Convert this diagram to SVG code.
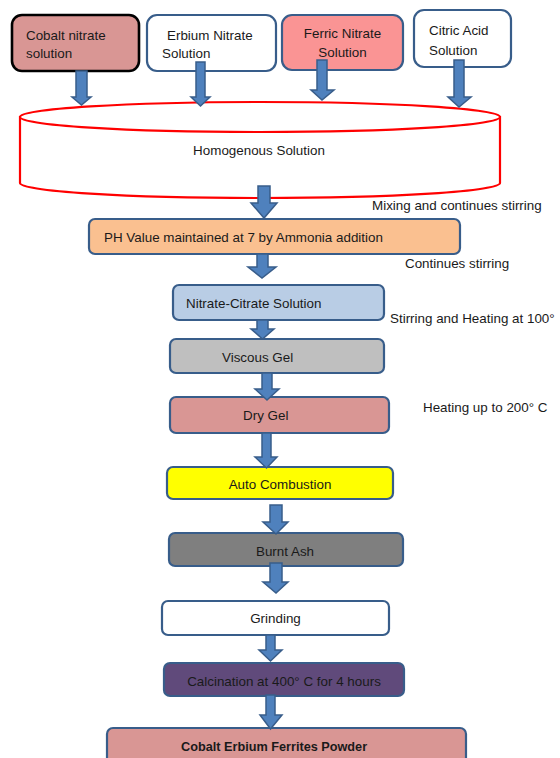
<svg xmlns="http://www.w3.org/2000/svg" width="560" height="758" viewBox="0 0 560 758">
<style>
text{font-family:"Liberation Sans",Arial,sans-serif;font-size:13.4px;fill:#1a1a1a}
.b{stroke:#385d8a;stroke-width:2.2}
.arr{fill:#4f81bd;stroke:#385d8a;stroke-width:1.5;stroke-linejoin:miter}
.c{text-anchor:middle}
</style>
<rect width="560" height="758" fill="#fff"/>
<g id="cylinder">
<path d="M20,117 L20,183 A240,15 0 0 0 500,183 L500,117 Z" fill="#fff" stroke="#ff0000" stroke-width="2.2"/>
<ellipse cx="260" cy="117" rx="240" ry="15" fill="#fff" stroke="#ff0000" stroke-width="2.2"/>
<text x="259" y="155" class="c">Homogenous Solution</text>
</g>
<g id="cobalt">
<rect x="12" y="15" width="127" height="56" rx="10" fill="#d99694" stroke="#000" stroke-width="2.6"/>
<text x="26" y="40">Cobalt nitrate</text>
<text x="26" y="58">solution</text>
</g>
<g id="erbium">
<rect x="147" y="15" width="129" height="56" rx="10" fill="#fff" class="b"/>
<text x="167" y="40">Erbium Nitrate</text>
<text x="162" y="58">Solution</text>
</g>
<g id="ferric">
<rect x="282" y="15" width="121" height="55" rx="10" fill="#fa9494" class="b"/>
<text x="342.5" y="38" class="c">Ferric Nitrate</text>
<text x="342.5" y="57" class="c">Solution</text>
</g>
<g id="citric">
<rect x="414" y="10" width="97" height="57" rx="10" fill="#fff" class="b"/>
<text x="429" y="35">Citric Acid</text>
<text x="429" y="55">Solution</text>
</g>
<g id="ph">
<rect x="89" y="219" width="371" height="35" rx="6" fill="#fac090" class="b"/>
<text x="104" y="242">PH Value maintained at 7 by Ammonia addition</text>
</g>
<g id="nitrate-citrate">
<rect x="173" y="285" width="211" height="35" rx="6" fill="#b9cde5" class="b"/>
<text x="186" y="308">Nitrate-Citrate Solution</text>
</g>
<g id="viscous">
<rect x="170" y="339" width="214" height="34" rx="6" fill="#bfbfbf" class="b"/>
<text x="222" y="362">Viscous Gel</text>
</g>
<g id="drygel">
<rect x="170" y="397" width="219" height="36" rx="6" fill="#d99694" class="b"/>
<text x="243" y="420">Dry Gel</text>
</g>
<g id="auto">
<rect x="167" y="467" width="226" height="32" rx="6" fill="#ffff00" class="b"/>
<text x="280" y="489" class="c">Auto Combustion</text>
</g>
<g id="burnt">
<rect x="169" y="533" width="234" height="33" rx="6" fill="#7f7f7f" class="b"/>
<text x="285" y="556" class="c">Burnt Ash</text>
</g>
<g id="grinding">
<rect x="162" y="601" width="227" height="34" rx="6" fill="#fff" class="b"/>
<text x="275.5" y="623" class="c">Grinding</text>
</g>
<g id="calcination">
<rect x="164" y="663" width="240" height="33" rx="6" fill="#604a7b" class="b"/>
<text x="284" y="686" class="c">Calcination at 400° C for 4 hours</text>
</g>
<g id="powder">
<rect x="107" y="728" width="359" height="42" rx="6" fill="#d99694" class="b"/>
<text x="181" y="751" style="font-weight:bold;font-size:12.7px">Cobalt Erbium Ferrites Powder</text>
</g>
<g id="labels">
<text x="372" y="210">Mixing and continues stirring</text>
<text x="405" y="268">Continues stirring</text>
<text x="390" y="323">Stirring and Heating at 100°</text>
<text x="423" y="412">Heating up to 200° C</text>
</g>
<g id="connectors">
<path class="arr" d="M76,71 H87 V97 H91 L81.5,105 L72,97 H76 Z"/>
<path class="arr" d="M196,62 H205 V97 H210 L200.5,106 L191,97 H196 Z"/>
<path class="arr" d="M317,60 H327 V90 H334 L322,100 L311,90 H317 Z"/>
<path class="arr" d="M454,60 H464 V97 H471 L459,107 L448,97 H454 Z"/>
<path class="arr" d="M258,186 H270 V203 H277 L264,218 L251,203 H258 Z"/>
<path class="arr" d="M257,254 H268 V267 H276 L262,278 L248,267 H257 Z"/>
<path class="arr" d="M257,320 H268 V329 H274 L262.5,339 L251,329 H257 Z"/>
<path class="arr" d="M262,373 H272 V389 H279 L267,400 L255,389 H262 Z"/>
<path class="arr" d="M262,433 H271 V457 H277 L266.5,468 L255,457 H262 Z"/>
<path class="arr" d="M270,505 H282 V522 H288 L276,534 L263,522 H270 Z"/>
<path class="arr" d="M270,563 H282 V582 H288 L276,593 L263,582 H270 Z"/>
<path class="arr" d="M266,635 H275 V650 H282 L270.5,661 L259,650 H266 Z"/>
<path class="arr" d="M266,695 H275 V715 H282 L270.5,729 L260,715 H266 Z"/>
</g>
</svg>
